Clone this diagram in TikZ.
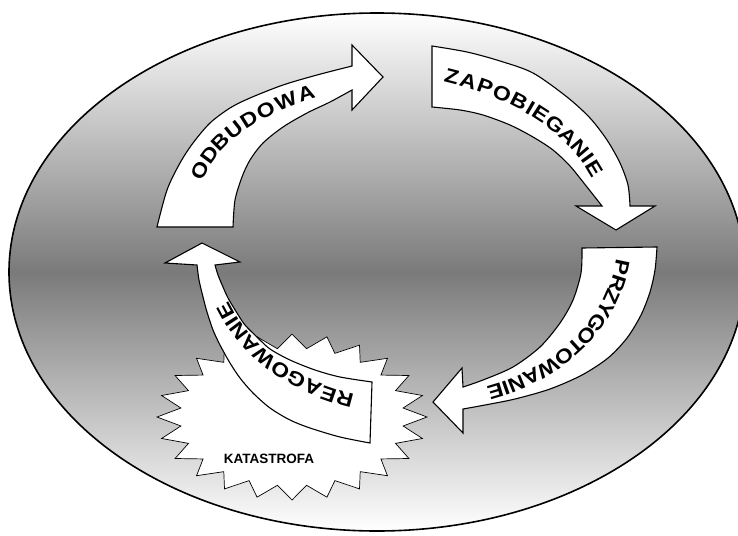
\documentclass[tikz,border=0pt]{standalone}
\usepackage{graphicx}
\usepackage{fontspec}
\setmainfont{Liberation Sans}
\newcommand\arrowtext{\fontsize{20}{20}\selectfont\bfseries}
\tikzset{
  cyclearrow/.style={draw=black, fill=white, line width=1.1pt, line join=miter},
  burst/.style={draw=black, fill=white, line width=0.7pt},
  arrowglyph/.style={sloped, allow upside down, inner sep=0pt, anchor=center, font=\arrowtext},
}
% Set a word letter by letter along a curve:
% #1 letter/advance(em) pairs, #2 gap (pt), #3 start offset (pt), #4 curve length (pt), #5 curve
\newcommand\bentword[5]{%
  \xdef\glyphpos{#3}%
  \foreach \ch/\glyphem in {#1}{%
    \pgfmathsetmacro\glyphmid{(\glyphpos+0.575*20*\glyphem)/#4}%
    \path #5 node[arrowglyph, pos=\glyphmid] {\scalebox{1.15}[1]{\ch}};%
    \pgfmathsetmacro\glyphnext{\glyphpos+1.15*20*\glyphem+#2}%
    \xdef\glyphpos{\glyphnext}%
  }%
}
\begin{document}
\begin{tikzpicture}[x=1pt,y=-1pt]
\useasboundingbox (0,0) rectangle (738,535);
\clip (0,0) rectangle (738,535);
\fill[white] (0,0) rectangle (738,535);

% shaded oval backdrop
\shade[top color=white, bottom color=white, middle color=black!52]
  (377,272) ellipse [x radius=368pt, y radius=259pt];
\draw[line width=1.6pt] (377,272) ellipse [x radius=368pt, y radius=259pt];

% 24-point burst behind the cycle
\draw[burst] plot[samples at={0,...,47}]
  ({292+135*(1-0.17*mod(\x,2))*cos(\x*7.5)}, {417+83*(1-0.17*mod(\x,2))*sin(\x*7.5)}) -- cycle;
\node[font=\bfseries\fontsize{13.5}{14}\selectfont] (katastrofa) at (269,459) {KATASTROFA};

% ODBUDOWA
\draw[cyclearrow] (157,227)
  -- plot[smooth] coordinates {(157,227) (167,190) (180,163) (193,143) (210,123) (230,108) (250,98) (283,85) (317,75) (352,66)}
  -- (352,45) -- (383,77) -- (352,110) -- (352,90)
  -- plot[smooth] coordinates {(352,90) (330,102) (307,113) (283,127) (263,143) (250,160) (242,177) (235,200) (233,227)}
  -- cycle;

% ZAPOBIEGANIE
\draw[cyclearrow] (432,46)
  -- plot[smooth] coordinates {(432,46) (467,52) (500,61) (533,73) (567,97) (590,118) (607,140) (620,163) (628,185) (630,206)}
  -- (655,206) -- (616,230) -- (576,206) -- (602,206)
  -- plot[smooth] coordinates {(602,206) (587,187) (570,166) (553,150) (533,137) (510,125) (483,115) (460,110) (432,107)}
  -- cycle;

% PRZYGOTOWANIE
\draw[cyclearrow] (582,248) -- (657,247)
  -- plot[smooth] coordinates {(657,247) (655,270) (650,292) (641,315) (627,338) (608,358) (582,375) (550,389) (515,399) (485,405) (463,409)}
  -- (463,433) -- (433,402) -- (462,368) -- (463,387)
  -- plot[smooth] coordinates {(463,387) (483,380) (513,367) (540,347) (560,323) (573,300) (581,273) (582,248)}
  -- cycle;

% REAGOWANIE
\draw[cyclearrow] (370,443)
  -- plot[smooth] coordinates {(370,443) (340,437) (310,428) (290,420) (270,408) (253,393) (240,378) (230,363) (220,345) (213,330) (207,312) (203,297) (199,280) (197,265)}
  -- (165,263) -- (202,243) -- (240,262) -- (215,265)
  -- plot[smooth] coordinates {(215,265) (218,275) (223,287) (228,298) (237,313) (245,325) (257,337) (270,349) (290,360) (315,370) (340,377) (372,382)}
  -- cycle;

% labels running along the arrows
\bentword{O/0.778,D/0.722,B/0.722,U/0.722,D/0.722,O/0.778,W/0.944,A/0.722}{1.5}{0}{183}
  {(197,178) .. controls (217.3,123.5) and (288.2,94.4) .. (345,84)}
\bentword{Z/0.611,A/0.722,P/0.667,O/0.778,B/0.722,I/0.278,E/0.667,G/0.778,A/0.722,N/0.722,I/0.278,E/0.667}{1.2}{0}{213.6}
  {(445,75) .. controls (515.6,91.7) and (586.2,128.8) .. (608,198)}
\bentword{P/0.667,R/0.722,Z/0.611,Y/0.667,G/0.778,O/0.778,T/0.611,O/0.778,W/0.944,A/0.722,N/0.722,I/0.278,E/0.667}{-0.3}{0}{239.6}
  {(623,260) .. controls (610.6,342.1) and (532.1,391.7) .. (450,400)}
\bentword{R/0.722,E/0.667,A/0.722,G/0.778,O/0.778,W/0.944,A/0.722,N/0.722,I/0.278,E/0.667}{0.8}{0}{196}
  {(353,401) .. controls (288,386.3) and (229.75,343) .. (213,278)}
\end{tikzpicture}
\end{document}
